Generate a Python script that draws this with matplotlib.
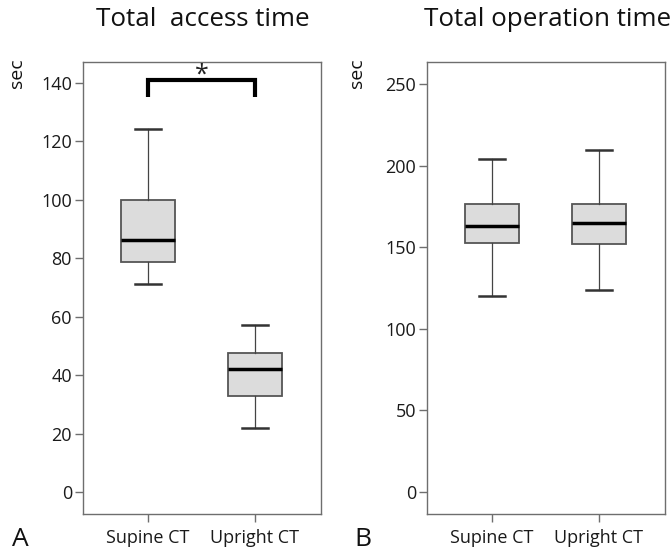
import matplotlib
matplotlib.use('Agg')
from matplotlib import pyplot as plt

plt.rcParams['font.family'] = ['Open Sans', 'DejaVu Sans']

groups = ['Supine CT', 'Upright CT']

# five-number summaries: low whisker, Q1, median, Q3, high whisker
access_low = [71, 22]
access_q1 = [78.5, 33]
access_med = [86, 42]
access_q3 = [100, 47.5]
access_high = [124, 57]

oper_low = [120, 124]
oper_q1 = [152.5, 152]
oper_med = [163, 165]
oper_q3 = [176.5, 176.5]
oper_high = [204, 209.5]

def make_stats(low, q1, med, q3, high):
    stats = []
    for i in range(len(groups)):
        stats.append({'whislo': low[i], 'q1': q1[i], 'med': med[i],
                      'q3': q3[i], 'whishi': high[i], 'fliers': [],
                      'label': groups[i]})
    return stats

fig = plt.figure(figsize=(6.7, 5.52), dpi=100)
ax1 = fig.add_axes([0.1239, 0.0688, 0.3552, 0.8188])
ax2 = fig.add_axes([0.6373, 0.0688, 0.3552, 0.8188])

edge = '#6e6e6e'

def draw(ax, stats, ylim, yticks):
    ax.bxp(stats, positions=[1, 2], widths=0.5, patch_artist=True,
           boxprops=dict(facecolor='#dcdcdc', edgecolor='#555555', linewidth=1.3),
           medianprops=dict(color='black', linewidth=2.5),
           whiskerprops=dict(color='#444444', linewidth=0.9),
           capprops=dict(color='#333333', linewidth=1.8),
           capwidths=0.25)
    ax.set_xlim(0.393, 2.617)
    ax.set_ylim(*ylim)
    ax.set_yticks(yticks)
    for s in ax.spines.values():
        s.set_color(edge)
        s.set_linewidth(1.0)
    ax.tick_params(axis='both', colors=edge, length=6, width=1.0, labelsize=13,
                   labelcolor='#1a1a1a')
    ax.tick_params(axis='x', pad=5)
    ax.tick_params(axis='y', pad=2)

draw(ax1, make_stats(access_low, access_q1, access_med, access_q3, access_high),
     (-7.5, 147), [0, 20, 40, 60, 80, 100, 120, 140])
draw(ax2, make_stats(oper_low, oper_q1, oper_med, oper_q3, oper_high),
     (-13.5, 263.5), [0, 50, 100, 150, 200, 250])

# significance bracket
ax1.plot([1, 1, 2, 2], [135, 140.8, 140.8, 135], color='black', linewidth=3,
         solid_capstyle='butt', solid_joinstyle='miter')
ax1.text(1.5, 138.2, '*', ha='center', va='bottom', fontsize=18, color='#222222')

fig.text(203 / 670, 1 - 20 / 552, 'Total  access time', ha='center', va='center',
         fontsize=18.7, color='#111111')
fig.text(424 / 670, 1 - 20 / 552, 'Total operation time', ha='left', va='center',
         fontsize=18.7, color='#111111')
fig.text(17 / 670, 1 - 73 / 552, 'sec', rotation=90, ha='center', va='center',
         fontsize=14, color='#111111')
fig.text(357 / 670, 1 - 73 / 552, 'sec', rotation=90, ha='center', va='center',
         fontsize=14, color='#111111')
fig.text(20 / 670, 1 - 540 / 552, 'A', ha='center', va='center', fontsize=19,
         color='#111111')
fig.text(363 / 670, 1 - 540 / 552, 'B', ha='center', va='center', fontsize=19,
         color='#111111')

plt.savefig('out.png', dpi=100)
